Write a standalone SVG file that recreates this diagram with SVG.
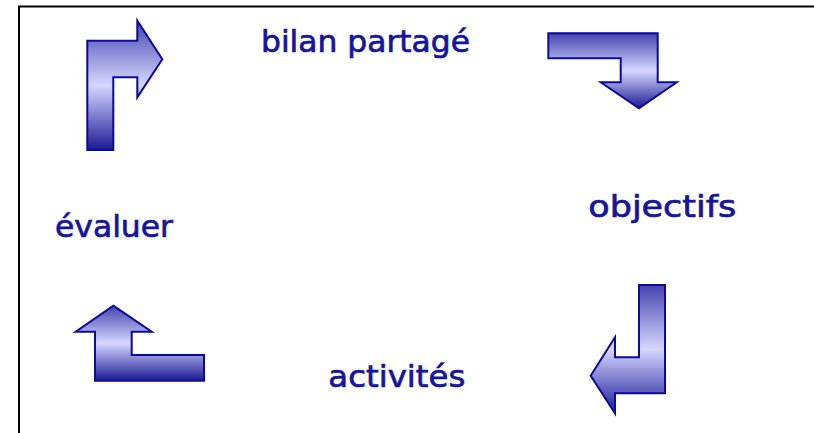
<svg xmlns="http://www.w3.org/2000/svg" width="814" height="433" viewBox="0 0 814 433">
  <defs>
    <linearGradient id="g" x1="0" y1="0" x2="0" y2="1">
      <stop offset="0" stop-color="#4444ae"/>
      <stop offset="0.5" stop-color="#d6d6ff"/>
      <stop offset="1" stop-color="#1a1a94"/>
    </linearGradient>
  </defs>
  <style>
    .arr { fill: url(#g); stroke: #0a0a9e; stroke-width: 2; stroke-linejoin: miter; }
    .lbl { font-family: "DejaVu Sans", "Liberation Sans", sans-serif; font-size: 31px; fill: #1414a0; stroke: #1414a0; stroke-width: 0.7; }
    .frame { stroke: #000; stroke-width: 2; fill: none; }
  </style>
  <rect width="814" height="433" fill="#fff"/>
  <path class="frame" d="M19,433 L19,6.5 L814,6.5"/>
  <g id="connectors">
    <path class="arr" d="M87.3,150 L87.3,40.7 L137.3,40.7 L137.3,20.7 L162.3,59.3 L137.3,97.3 L137.3,77.3 L113.3,77.3 L113.3,150 Z"/>
    <path class="arr" d="M548.3,33.3 L657.7,33.3 L657.7,82.3 L676.7,82.3 L639,108.3 L600.7,82.3 L620.7,82.3 L620.7,58.3 L548.3,58.3 Z"/>
    <path class="arr" d="M639,285 L665,285 L665,393.3 L615,393.3 L615,413.3 L590.7,375.7 L615,337.3 L615,357.3 L639,357.3 Z"/>
    <path class="arr" d="M113.3,305.7 L151.7,331.7 L131.7,331.7 L131.7,355 L204,355 L204,380.7 L95,380.7 L95,331.7 L75.7,331.7 Z"/>
  </g>
  <g id="bilan">
    <text class="lbl" x="261" y="51.7" textLength="209" lengthAdjust="spacingAndGlyphs">bilan partagé</text>
  </g>
  <g id="objectifs">
    <text class="lbl" x="588.3" y="216.7" textLength="148" lengthAdjust="spacingAndGlyphs">objectifs</text>
  </g>
  <g id="activites">
    <text class="lbl" x="328.3" y="387.3" textLength="137" lengthAdjust="spacingAndGlyphs">activités</text>
  </g>
  <g id="evaluer">
    <text class="lbl" x="55" y="236.7" textLength="118" lengthAdjust="spacingAndGlyphs">évaluer</text>
  </g>
</svg>
